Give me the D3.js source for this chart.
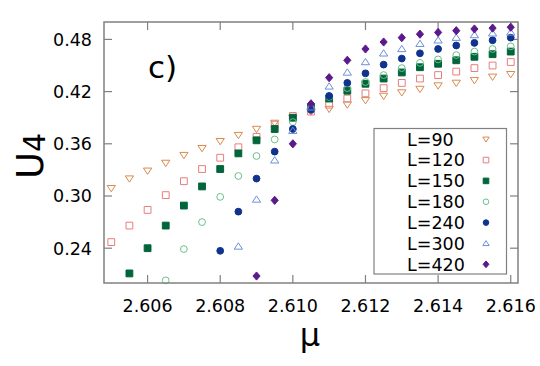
<!DOCTYPE html>
<html>
<head>
<meta charset="utf-8">
<script src="https://cdn.jsdelivr.net/npm/d3@7"></script>
<style>
  body { margin: 0; background: #fff; }
  svg { display: block; font-family: "DejaVu Sans", sans-serif; }
</style>
</head>
<body>
<svg id="chart" width="540" height="366"></svg>
<script>
// chemical potential values (one point every 0.0005)
const mu = [2.6050, 2.6055, 2.6060, 2.6065, 2.6070, 2.6075, 2.6080, 2.6085, 2.6090, 2.6095,
  2.6100, 2.6105, 2.6110, 2.6115, 2.6120, 2.6125, 2.6130, 2.6135, 2.6140, 2.6145,
  2.6150, 2.6155, 2.6160];

// Binder cumulant U4 per system size (null = outside plotted range)
const u90 = [0.309, 0.320, 0.329, 0.338, 0.347, 0.355, 0.363, 0.370, 0.377, 0.384,
  0.390, 0.397, 0.400, 0.405, 0.410, 0.415, 0.419, 0.423, 0.427, 0.430,
  0.433, 0.437, 0.440];
const u120 = [0.247, 0.266, 0.284, 0.301, 0.317, 0.331, 0.344, 0.356, 0.368, 0.382,
  0.392, 0.397, 0.405, 0.412, 0.418, 0.424, 0.430, 0.435, 0.439, 0.443,
  0.447, 0.450, 0.454];
const u150 = [null, 0.211, 0.240, 0.266, 0.289, 0.311, 0.331, 0.349, 0.364, 0.377,
  0.390, 0.402, 0.412, 0.421, 0.429, 0.435, 0.442, 0.448, 0.452, 0.456,
  0.460, 0.463, 0.466];
const u180 = [null, null, null, 0.203, 0.239, 0.270, 0.299, 0.323, 0.346, 0.365,
  0.385, 0.401, 0.414, 0.424, 0.431, 0.439, 0.447, 0.453, 0.457, 0.462,
  0.466, 0.469, 0.472];
const u240 = [null, null, null, null, null, null, 0.237, 0.282, 0.320, 0.351,
  0.377, 0.399, 0.415, 0.430, 0.441, 0.451, 0.458, 0.464, 0.469, 0.473,
  0.476, 0.479, 0.482];
const u300 = [null, null, null, null, null, null, null, 0.242, 0.296, 0.341,
  0.375, 0.402, 0.426, 0.442, 0.454, 0.464, 0.469, 0.475, 0.479, 0.482,
  0.485, 0.487, 0.488];
const u420 = [null, null, null, null, null, null, null, null, 0.208, 0.295,
  0.360, 0.406, 0.436, 0.456, 0.469, 0.477, 0.482, 0.486, 0.488, 0.490,
  0.492, 0.493, 0.494];

const sizes = ["L=90", "L=120", "L=150", "L=180", "L=240", "L=300", "L=420"];
const xTicks = [2.606, 2.608, 2.610, 2.612, 2.614, 2.616];
const yTicks = [0.24, 0.30, 0.36, 0.42, 0.48];

const series = [
  { name: sizes[0], values: u90,  shape: "triDown", fill: false, color: "#d98a4e" },
  { name: sizes[1], values: u120, shape: "square",  fill: false, color: "#e87d7d" },
  { name: sizes[2], values: u150, shape: "square",  fill: true,  color: "#00653a" },
  { name: sizes[3], values: u180, shape: "circle",  fill: false, color: "#6cbf8a" },
  { name: sizes[4], values: u240, shape: "circle",  fill: true,  color: "#10338f" },
  { name: sizes[5], values: u300, shape: "triUp",   fill: false, color: "#6e90d8" },
  { name: sizes[6], values: u420, shape: "diamond", fill: true,  color: "#5b1a8c" }
];

const svg = d3.select("#chart");
const pLeft = 104, pRight = 518, pTop = 22, pBottom = 283;

const x = d3.scaleLinear().domain([2.6048, 2.6162]).range([pLeft, pRight]);
const y = d3.scaleLinear().domain([0.20, 0.50]).range([pBottom, pTop]);

// marker outline, r = half size
function markerPath(shape, r) {
  const p = d3.path();
  if (shape === "square") {
    p.rect(-r, -r, 2 * r, 2 * r);
  } else if (shape === "circle") {
    p.arc(0, 0, r, 0, 2 * Math.PI);
  } else if (shape === "triDown") {
    p.moveTo(-r * 1.15, -r * 0.75); p.lineTo(r * 1.15, -r * 0.75); p.lineTo(0, r * 1.0); p.closePath();
  } else if (shape === "triUp") {
    p.moveTo(-r * 1.15, r * 0.75); p.lineTo(r * 1.15, r * 0.75); p.lineTo(0, -r * 1.0); p.closePath();
  } else if (shape === "diamond") {
    p.moveTo(0, -r * 1.2); p.lineTo(r * 1.05, 0); p.lineTo(0, r * 1.2); p.lineTo(-r * 1.05, 0); p.closePath();
  }
  return p.toString();
}

// ticks (inward, mirrored on all sides)
const tickLen = 8;
const ticks = svg.append("g").attr("stroke", "#808080").attr("stroke-width", 1.2);
xTicks.forEach(t => {
  ticks.append("line").attr("x1", x(t)).attr("x2", x(t)).attr("y1", pBottom).attr("y2", pBottom - tickLen);
  ticks.append("line").attr("x1", x(t)).attr("x2", x(t)).attr("y1", pTop).attr("y2", pTop + tickLen);
});
yTicks.forEach(t => {
  ticks.append("line").attr("x1", pLeft).attr("x2", pLeft + tickLen).attr("y1", y(t)).attr("y2", y(t));
  ticks.append("line").attr("x1", pRight).attr("x2", pRight - tickLen).attr("y1", y(t)).attr("y2", y(t));
});

// tick labels
svg.append("g").selectAll("text").data(xTicks).enter().append("text")
  .attr("x", d => x(d)).attr("y", 312)
  .attr("text-anchor", "middle").attr("font-size", 17.5)
  .text(d => d3.format(".3f")(d));
svg.append("g").selectAll("text").data(yTicks).enter().append("text")
  .attr("x", 92).attr("y", d => y(d)).attr("dy", "0.36em")
  .attr("text-anchor", "end").attr("font-size", 17.5)
  .text(d => d3.format(".2f")(d));

// data points
series.forEach(s => {
  svg.append("g").selectAll("path")
    .data(mu.map((m, i) => ({ m, v: s.values[i] })).filter(d => d.v != null))
    .enter().append("path")
    .attr("d", markerPath(s.shape, s.shape === "triDown" || s.shape === "triUp" ? 3.6 : 3.4))
    .attr("transform", d => `translate(${x(d.m)},${y(d.v)})`)
    .attr("fill", s.fill ? s.color : "none")
    .attr("stroke", s.color)
    .attr("stroke-width", 1);
});

// frame
svg.append("rect")
  .attr("x", pLeft).attr("y", pTop).attr("width", pRight - pLeft).attr("height", pBottom - pTop)
  .attr("fill", "none").attr("stroke", "#808080").attr("stroke-width", 1.5);

// legend
const legend = svg.append("g");
legend.append("rect")
  .attr("x", 374).attr("y", 128.5).attr("width", 132.5).attr("height", 145.5)
  .attr("fill", "#fff").attr("stroke", "#808080").attr("stroke-width", 1.2);
series.forEach((s, i) => {
  const ly = 139.2 + i * 20.85;
  legend.append("text").attr("x", 407).attr("y", ly).attr("dy", "0.36em")
    .attr("font-size", 17.5).text(s.name);
  legend.append("path")
    .attr("d", markerPath(s.shape, 2.8))
    .attr("transform", `translate(486,${ly})`)
    .attr("fill", s.fill ? s.color : "none")
    .attr("stroke", s.color).attr("stroke-width", 1);
});

// panel tag
svg.append("text").attr("x", 148).attr("y", 78).attr("font-size", 31).text("c)");

// axis titles
svg.append("text").attr("x", 310).attr("y", 346).attr("text-anchor", "middle")
  .attr("font-size", 32).text("μ");
const yl = svg.append("text")
  .attr("transform", "translate(43,156) rotate(-90)")
  .attr("text-anchor", "middle").attr("font-size", 37);
yl.append("tspan").text("U");
yl.append("tspan").attr("font-size", 30).attr("dy", 2).text("4");
</script>
</body>
</html>
